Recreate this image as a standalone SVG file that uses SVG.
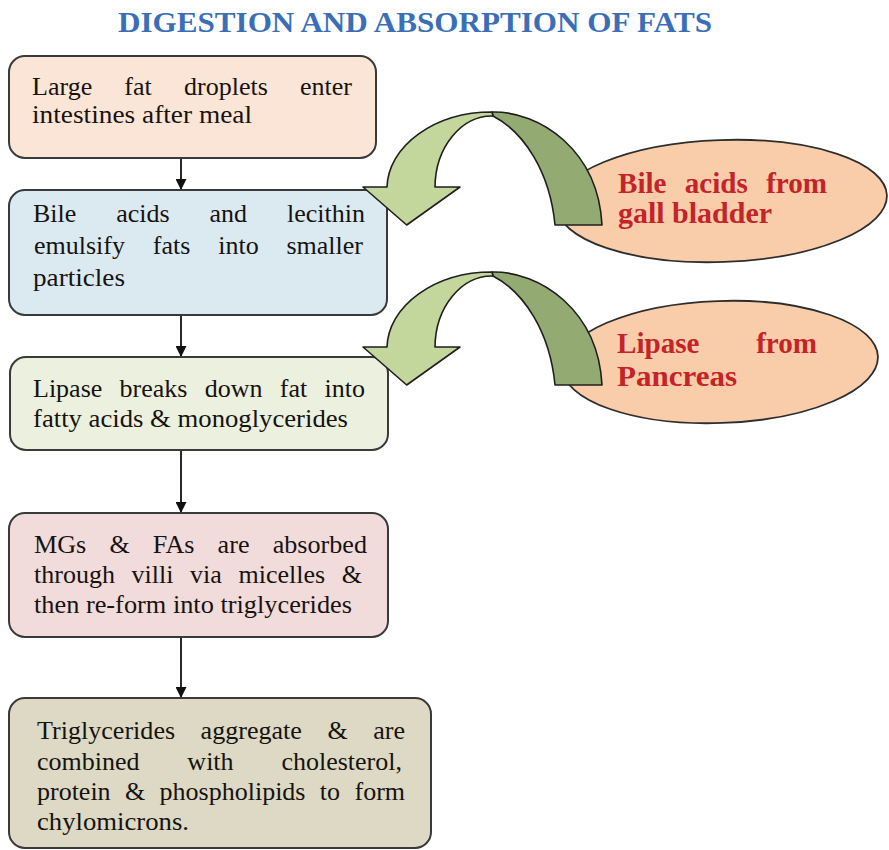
<svg xmlns="http://www.w3.org/2000/svg" width="889" height="850" viewBox="0 0 889 850">
<defs>
<style>
.box{stroke:#3a3a3a;stroke-width:2}
.t{font-family:"Liberation Serif","Tinos","DejaVu Serif",serif;font-size:26px;fill:#161310}
.et{font-family:"Liberation Serif","Tinos","DejaVu Serif",serif;font-size:29px;font-weight:bold;fill:#c4232a}
.ttl{font-family:"Liberation Serif","Tinos","DejaVu Serif",serif;font-size:30px;font-weight:bold;fill:#3a6fb8}
.ell{fill:#f9cda9;stroke:#2e2e2e;stroke-width:1.8}
.lg{fill:#c3d69b;stroke:#1f1f1f;stroke-width:1.6;stroke-linejoin:round}
.dg{fill:#93ab73;stroke:#1f1f1f;stroke-width:1.6;stroke-linejoin:round}
.conn{stroke:#111;stroke-width:1.8;fill:none}
</style>
<marker id="ah" viewBox="0 0 10 10" refX="10" refY="5" markerWidth="11" markerHeight="11" markerUnits="userSpaceOnUse" orient="auto">
<path d="M0,0 L10,5 L0,10 Z" fill="#111"/>
</marker>
<g id="curl">
<path class="dg" d="M492,112 C540,111 598,150 602,225 L555,225 C550,172 524,132 493,116 Z"/>
<path class="lg" d="M492,112 A105,77 0 0 0 387,187 L363,187 L406.7,225 L460,187 L435,187 A57,72 0 0 1 493,116 Z"/>
</g>
</defs>
<rect width="889" height="850" fill="#ffffff"/>

<text class="ttl" x="118" y="32" textLength="594" lengthAdjust="spacingAndGlyphs">DIGESTION AND ABSORPTION OF FATS</text>

<g id="connectors">
<line class="conn" x1="181" y1="158" x2="181" y2="190" marker-end="url(#ah)"/>
<line class="conn" x1="181" y1="315" x2="181" y2="357" marker-end="url(#ah)"/>
<line class="conn" x1="181" y1="450" x2="181" y2="513" marker-end="url(#ah)"/>
<line class="conn" x1="181" y1="637" x2="181" y2="698" marker-end="url(#ah)"/>
</g>

<g id="box1">
<rect class="box" x="9" y="56" width="367" height="102" rx="16" fill="#fbe5d6"/>
<text class="t" x="32" y="95" word-spacing="25.6" textLength="320" lengthAdjust="spacingAndGlyphs">Large fat droplets enter</text>
<text class="t" x="32" y="123" textLength="220" lengthAdjust="spacingAndGlyphs">intestines after meal</text>
</g>

<g id="box2">
<rect class="box" x="9" y="190" width="378" height="125" rx="16" fill="#dbe9f1"/>
<text class="t" x="33" y="222" word-spacing="33.4" textLength="332" lengthAdjust="spacingAndGlyphs">Bile acids and lecithin</text>
<text class="t" x="34" y="254" word-spacing="21.3" textLength="329" lengthAdjust="spacingAndGlyphs">emulsify fats into smaller</text>
<text class="t" x="33" y="286" textLength="92" lengthAdjust="spacingAndGlyphs">particles</text>
</g>

<g id="box3">
<rect class="box" x="10" y="357" width="378" height="93" rx="16" fill="#ebf1de"/>
<text class="t" x="33" y="397" word-spacing="10.8" textLength="332" lengthAdjust="spacingAndGlyphs">Lipase breaks down fat into</text>
<text class="t" x="33" y="427" textLength="315" lengthAdjust="spacingAndGlyphs">fatty acids &amp; monoglycerides</text>
</g>

<g id="box4">
<rect class="box" x="9" y="513" width="379" height="124" rx="16" fill="#f2dcdb"/>
<text class="t" x="34" y="553" word-spacing="16.5" textLength="333" lengthAdjust="spacingAndGlyphs">MGs &amp; FAs are absorbed</text>
<text class="t" x="34" y="583" word-spacing="10.1" textLength="328" lengthAdjust="spacingAndGlyphs">through villi via micelles &amp;</text>
<text class="t" x="34" y="613" textLength="318" lengthAdjust="spacingAndGlyphs">then re-form into triglycerides</text>
</g>

<g id="box5">
<rect class="box" x="9" y="698" width="422" height="150" rx="16" fill="#ddd9c4"/>
<text class="t" x="37" y="739" word-spacing="18.9" textLength="368" lengthAdjust="spacingAndGlyphs">Triglycerides aggregate &amp; are</text>
<text class="t" x="37" y="770" word-spacing="41.3" textLength="365" lengthAdjust="spacingAndGlyphs">combined with cholesterol,</text>
<text class="t" x="37" y="800" word-spacing="7.9" textLength="368" lengthAdjust="spacingAndGlyphs">protein &amp; phospholipids to form</text>
<text class="t" x="37" y="830" textLength="152" lengthAdjust="spacingAndGlyphs">chylomicrons.</text>
</g>

<g id="bile">
<ellipse class="ell" cx="722" cy="201" rx="165" ry="61" transform="rotate(-2 722 201)"/>
<text class="et" x="618" y="193" word-spacing="11" textLength="209" lengthAdjust="spacingAndGlyphs">Bile acids from</text>
<text class="et" x="618" y="223" textLength="154" lengthAdjust="spacingAndGlyphs">gall bladder</text>
</g>

<g id="lipase">
<ellipse class="ell" cx="720" cy="362" rx="158" ry="61" transform="rotate(-2 720 362)"/>
<text class="et" x="617" y="353" word-spacing="49.3" textLength="200" lengthAdjust="spacingAndGlyphs">Lipase from</text>
<text class="et" x="617" y="386" textLength="120" lengthAdjust="spacingAndGlyphs">Pancreas</text>
</g>

<g id="curl1"><use href="#curl"/></g>
<g id="curl2"><use href="#curl" transform="translate(0,160)"/></g>
</svg>
